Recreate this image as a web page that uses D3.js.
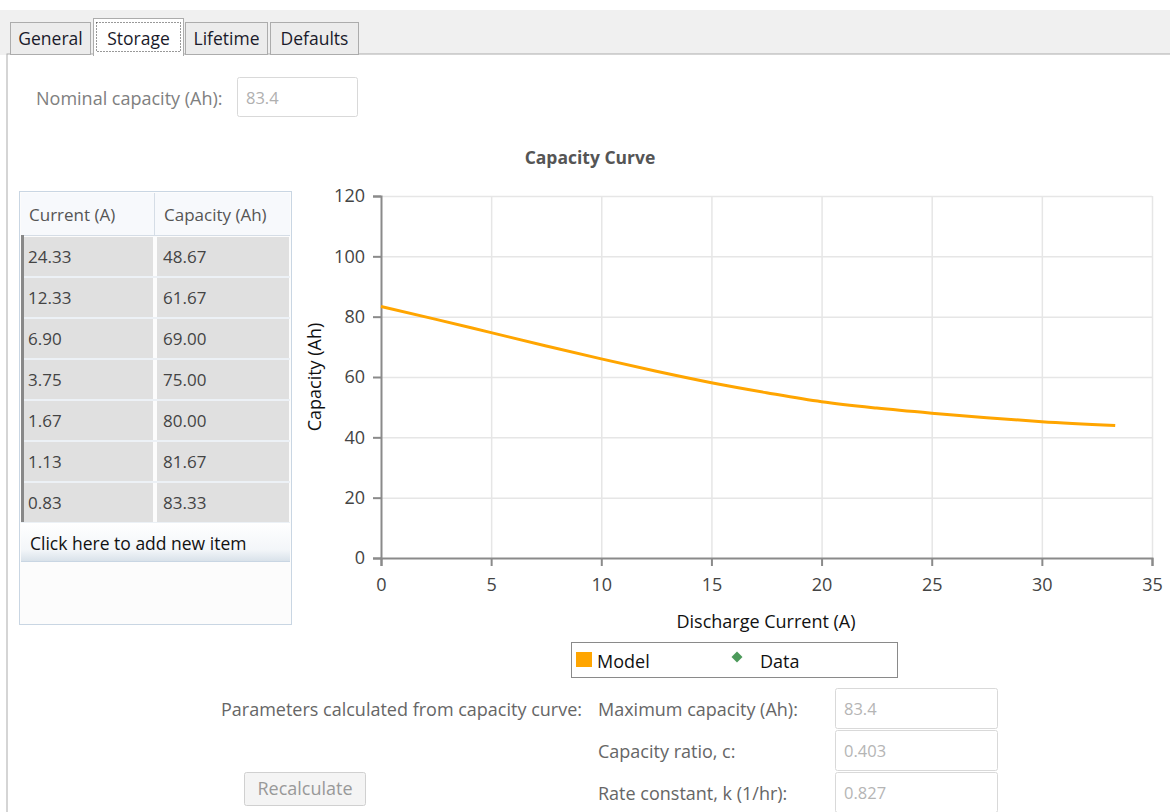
<!DOCTYPE html>
<html>
<head>
<meta charset="utf-8">
<script src="https://cdn.jsdelivr.net/npm/d3@7"></script>
<style>
  body { margin: 0; background: #fff; }
  svg text { font-family: "Open Sans", "Noto Sans", sans-serif; }
</style>
</head>
<body>
<svg id="page" width="1170" height="812"></svg>
<script>
// values
const tabNames = ["General", "Storage", "Lifetime", "Defaults"];
const tableCurrent = ["24.33", "12.33", "6.90", "3.75", "1.67", "1.13", "0.83"];
const tableCapacity = ["48.67", "61.67", "69.00", "75.00", "80.00", "81.67", "83.33"];
const modelCurrent = [0, 2.5, 5, 7.5, 10, 12.5, 15, 17.5, 20, 22.5, 25, 27.5, 30, 33.33];
const modelCapacity = [83.4, 79.1, 74.7, 70.3, 66.0, 61.9, 58.1, 54.8, 51.8, 49.7, 48.0, 46.5, 45.2, 43.9];
const xTicks = [0, 5, 10, 15, 20, 25, 30, 35];
const yTicks = [0, 20, 40, 60, 80, 100, 120];
const paramLabels = ["Maximum capacity (Ah):", "Capacity ratio, c:", "Rate constant, k (1/hr):"];
const paramValues = ["83.4", "0.403", "0.827"];

const svg = d3.select("#page");
const fs = "18px";

// ---- tab strip ----
svg.append("rect").attr("x", 0).attr("y", 10).attr("width", 1170).attr("height", 45).attr("fill", "#f0f0f0");
svg.append("rect").attr("x", 7).attr("y", 54).attr("width", 1170).attr("height", 770)
    .attr("fill", "#fff").attr("stroke", "#acacac");

const tabX = [10, 93, 185, 270];
const tabW = [80, 90, 82, 88];
tabNames.forEach(function(t, i) {
    var sel = i == 1;
    var g = svg.append("g");
    g.append("rect")
        .attr("x", tabX[i] + 0.5).attr("y", sel ? 18.5 : 22.5)
        .attr("width", tabW[i]).attr("height", sel ? 37 : 32)
        .attr("fill", sel ? "#fff" : "#ececec").attr("stroke", "#acacac");
    if (sel) {
        g.append("rect").attr("x", tabX[i] + 1).attr("y", 54).attr("width", tabW[i] - 1).attr("height", 2).attr("fill", "#fff");
        g.append("rect").attr("x", tabX[i] + 3.5).attr("y", 22.5).attr("width", tabW[i] - 6).attr("height", 29)
            .attr("fill", "none").attr("stroke", "#333").attr("stroke-dasharray", "1,2");
    }
    g.append("text").attr("x", tabX[i] + tabW[i] / 2 + 0.5).attr("y", 45)
        .attr("text-anchor", "middle").style("font-size", "17.5px").style("fill", "#1a1a2a").text(t);
});

// ---- nominal capacity ----
svg.append("text").attr("x", 36).attr("y", 105).style("font-size", fs).style("fill", "#808080")
    .text("Nominal capacity (Ah):");
svg.append("rect").attr("x", 237.5).attr("y", 77.5).attr("width", 120).attr("height", 39).attr("rx", 2)
    .attr("fill", "#fff").attr("stroke", "#d9d9d9");
svg.append("text").attr("x", 246).attr("y", 104).style("font-size", "16.5px").style("fill", "#b0b0b0").text("83.4");

// ---- data grid ----
var grid = svg.append("g");
grid.append("rect").attr("x", 19.5).attr("y", 191.5).attr("width", 272).attr("height", 433)
    .attr("fill", "#fcfcfc").attr("stroke", "#c9d6e3");
grid.append("rect").attr("x", 21).attr("y", 193).attr("width", 269).attr("height", 42).attr("fill", "#f7f9fc");
grid.append("line").attr("x1", 154.5).attr("x2", 154.5).attr("y1", 193).attr("y2", 235).attr("stroke", "#d5dde6");
grid.append("line").attr("x1", 21).attr("x2", 290).attr("y1", 235.5).attr("y2", 235.5).attr("stroke", "#d5dde6");
grid.append("text").attr("x", 29).attr("y", 221).style("font-size", "17px").style("fill", "#555").text("Current (A)");
grid.append("text").attr("x", 164).attr("y", 221).style("font-size", "17px").style("fill", "#555").text("Capacity (Ah)");

tableCurrent.forEach(function(c, i) {
    var y = 237 + i * 41;
    grid.append("rect").attr("x", 22).attr("y", y).attr("width", 131).attr("height", 39).attr("fill", "#e0e0e0");
    grid.append("rect").attr("x", 157).attr("y", y).attr("width", 132).attr("height", 39).attr("fill", "#e0e0e0");
    grid.append("line").attr("x1", 21).attr("x2", 290).attr("y1", y + 40).attr("y2", y + 40).attr("stroke", "#dde6f0");
    grid.append("text").attr("x", 28).attr("y", y + 26).style("font-size", "17px").style("fill", "#444").text(c);
    grid.append("text").attr("x", 163).attr("y", y + 26).style("font-size", "17px").style("fill", "#444").text(tableCapacity[i]);
});
grid.append("rect").attr("x", 21).attr("y", 235).attr("width", 3).attr("height", 287).attr("fill", "#888");

var addGrad = svg.append("defs").append("linearGradient").attr("id", "addg").attr("x1", 0).attr("y1", 0).attr("x2", 0).attr("y2", 1);
addGrad.append("stop").attr("offset", "0").attr("stop-color", "#ffffff");
addGrad.append("stop").attr("offset", "0.7").attr("stop-color", "#f3f6f9");
addGrad.append("stop").attr("offset", "1").attr("stop-color", "#d9e2ea");
grid.append("rect").attr("x", 21).attr("y", 523).attr("width", 269).attr("height", 38).attr("fill", "url(#addg)");
grid.append("line").attr("x1", 21).attr("x2", 290).attr("y1", 561.5).attr("y2", 561.5).attr("stroke", "#c9d6e3");
grid.append("text").attr("x", 30).attr("y", 550).style("font-size", "17.5px").style("fill", "#111").text("Click here to add new item");

// ---- chart ----
const plot = { left: 381, right: 1152, top: 196, bottom: 558 };
var x = d3.scaleLinear().domain([0, 35]).range([plot.left, plot.right]);
var y = d3.scaleLinear().domain([0, 120]).range([plot.bottom, plot.top]);

var chart = svg.append("g");

chart.selectAll(".vgrid").data(xTicks.slice(1)).enter().append("line")
    .attr("x1", d => x(d) + 0.5).attr("x2", d => x(d) + 0.5)
    .attr("y1", plot.top).attr("y2", plot.bottom)
    .attr("stroke", "#e6e6e6").attr("stroke-width", 1.5);
chart.selectAll(".hgrid").data(yTicks.slice(1)).enter().append("line")
    .attr("x1", plot.left).attr("x2", plot.right)
    .attr("y1", d => y(d) + 0.5).attr("y2", d => y(d) + 0.5)
    .attr("stroke", "#e6e6e6").attr("stroke-width", 1.5);

var xAxis = chart.append("g").attr("transform", "translate(0," + plot.bottom + ")")
    .call(d3.axisBottom(x).tickValues(xTicks).tickSize(8).tickPadding(12).tickFormat(d3.format("d")));
var yAxis = chart.append("g").attr("transform", "translate(" + plot.left + ",0)")
    .call(d3.axisLeft(y).tickValues(yTicks).tickSize(8).tickPadding(8).tickFormat(d3.format("d")));
[xAxis, yAxis].forEach(function(a) {
    a.select(".domain").attr("stroke", "#8a8a8a").attr("stroke-width", 2);
    a.selectAll(".tick line").attr("stroke", "#8a8a8a").attr("stroke-width", 2);
    a.selectAll(".tick text").style("font-size", fs).style("fill", "#444")
        .style("font-family", "'Open Sans', 'Noto Sans', sans-serif");
});

var modelPts = modelCurrent.map((c, i) => [c, modelCapacity[i]]);
chart.append("path").datum(modelPts)
    .attr("fill", "none").attr("stroke", "#ffa500").attr("stroke-width", 3)
    .attr("d", d3.line().x(d => x(d[0])).y(d => y(d[1])).curve(d3.curveMonotoneX));

chart.append("text").attr("x", 590).attr("y", 164).attr("text-anchor", "middle")
    .style("font-size", "17.5px").style("font-weight", "bold").style("fill", "#555").text("Capacity Curve");
chart.append("text").attr("x", 766).attr("y", 628).attr("text-anchor", "middle")
    .style("font-size", fs).style("fill", "#111").text("Discharge Current (A)");
chart.append("text").attr("transform", "translate(321,377) rotate(-90)").attr("text-anchor", "middle")
    .style("font-size", fs).style("fill", "#111").text("Capacity (Ah)");

// legend
var legend = svg.append("g");
legend.append("rect").attr("x", 571.5).attr("y", 642.5).attr("width", 326).attr("height", 35)
    .attr("fill", "#fff").attr("stroke", "#8a8a8a");
legend.append("rect").attr("x", 576).attr("y", 652).attr("width", 16).attr("height", 15).attr("fill", "#ffa500");
legend.append("text").attr("x", 597).attr("y", 668).style("font-size", fs).style("fill", "#111").text("Model");
legend.append("path").attr("d", d3.symbol().type(d3.symbolSquare).size(60))
    .attr("transform", "translate(737,657) rotate(45)").attr("fill", "#4c9a5a");
legend.append("text").attr("x", 760).attr("y", 668).style("font-size", fs).style("fill", "#111").text("Data");

// ---- parameters ----
svg.append("text").attr("x", 582).attr("y", 716).attr("text-anchor", "end")
    .style("font-size", fs).style("fill", "#666").text("Parameters calculated from capacity curve:");
paramLabels.forEach(function(l, i) {
    var yy = 688 + i * 42;
    svg.append("text").attr("x", 598).attr("y", yy + 28).style("font-size", fs).style("fill", "#666").text(l);
    svg.append("rect").attr("x", 835.5).attr("y", yy + 0.5).attr("width", 162).attr("height", 40).attr("rx", 2)
        .attr("fill", "#fff").attr("stroke", "#d9d9d9");
    svg.append("text").attr("x", 844).attr("y", yy + 27).style("font-size", "16.5px").style("fill", "#b5b5b5").text(paramValues[i]);
});
svg.append("rect").attr("x", 244.5).attr("y", 772.5).attr("width", 121).attr("height", 33).attr("rx", 2)
    .attr("fill", "#f4f4f4").attr("stroke", "#d0d0d0");
svg.append("text").attr("x", 305).attr("y", 795).attr("text-anchor", "middle")
    .style("font-size", fs).style("fill", "#999").text("Recalculate");
</script>
</body>
</html>
